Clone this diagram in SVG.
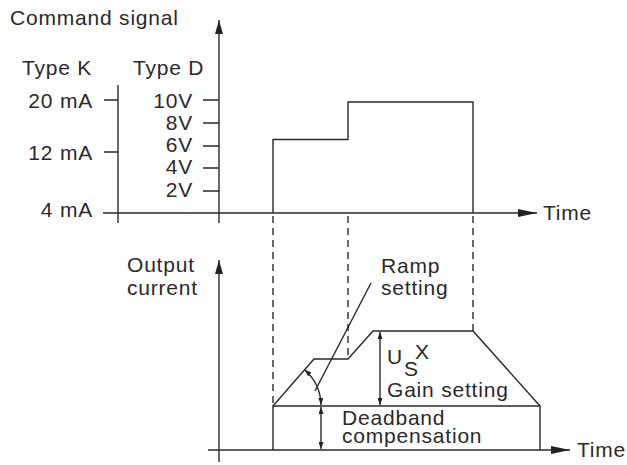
<svg xmlns="http://www.w3.org/2000/svg" width="627" height="465" viewBox="0 0 627 465">
<style>
text{font-family:"Liberation Sans",Arial,sans-serif;font-size:21px;fill:#2a2a2a;letter-spacing:0.8px}
.ln{stroke:#2a2a2a;stroke-width:1.4;fill:none}
.ds{stroke:#2a2a2a;stroke-width:1.4;fill:none;stroke-dasharray:7 5}
.e{text-anchor:end}
</style>
<defs>
<marker id="big" viewBox="0 0 14 8" refX="14" refY="4" markerWidth="14" markerHeight="8" markerUnits="userSpaceOnUse" orient="auto"><path d="M0,0 L14,4 L0,8 Z" fill="#222"/></marker>
<marker id="tm" viewBox="0 0 19 8" refX="19" refY="4" markerWidth="19" markerHeight="8" markerUnits="userSpaceOnUse" orient="auto"><path d="M0,0 L19,4 L0,8 Z" fill="#222"/></marker>
<marker id="sm" viewBox="0 0 7 5" refX="7" refY="2.5" markerWidth="7" markerHeight="5" markerUnits="userSpaceOnUse" orient="auto-start-reverse"><path d="M0,0 L7,2.5 L0,5 Z" fill="#222"/></marker>
</defs>
<g id="top-chart">
<text x="10" y="25">Command signal</text>
<text x="22" y="75">Type K</text>
<text x="133" y="75">Type D</text>
<text class="e" x="93" y="108">20 mA</text>
<text class="e" x="93" y="160">12 mA</text>
<text class="e" x="93" y="217">4 mA</text>
<text class="e" x="193" y="108">10V</text>
<text class="e" x="193" y="130">8V</text>
<text class="e" x="193" y="152">6V</text>
<text class="e" x="193" y="174">4V</text>
<text class="e" x="193" y="197">2V</text>
<text x="543" y="220">Time</text>
<line class="ln" x1="118" y1="85" x2="118" y2="223"/>
<line class="ln" x1="219" y1="223" x2="219" y2="20" marker-end="url(#big)"/>
<line class="ln" x1="103" y1="213" x2="537" y2="213" marker-end="url(#tm)"/>
<path class="ln" d="M104,100H118M104,152H118M203,100H219M203,123H219M203,146H219M203,168H219M203,191H219"/>
<path class="ln" d="M273,213V139.5H348V102H473V213"/>
</g>
<g id="bottom-chart">
<text x="127" y="272">Output</text>
<text x="127" y="295">current</text>
<text x="381" y="273">Ramp</text>
<text x="381" y="295">setting</text>
<text x="387" y="364">U</text>
<text x="404" y="376">S</text>
<text x="415" y="359">X</text>
<text x="387" y="397">Gain setting</text>
<text x="342" y="425">Deadband</text>
<text x="342" y="443">compensation</text>
<text x="577" y="457">Time</text>
<line class="ln" x1="219" y1="462" x2="219" y2="260" marker-end="url(#big)"/>
<line class="ln" x1="208" y1="450" x2="570" y2="450" marker-end="url(#tm)"/>
<path class="ln" d="M273,450V406H540V450"/>
<path class="ln" d="M273,406L314,359H348L373,331H473L540,406"/>
</g>
<g id="connectors">
<line class="ds" x1="273" y1="216" x2="273" y2="406"/>
<line class="ds" x1="348" y1="216" x2="348" y2="359"/>
<line class="ds" x1="473" y1="216" x2="473" y2="331"/>
<line class="ln" x1="371" y1="283" x2="315" y2="391"/>
<line class="ln" x1="380" y1="332" x2="380" y2="405" marker-start="url(#sm)" marker-end="url(#sm)"/>
<line class="ln" x1="321" y1="407" x2="321" y2="449" marker-start="url(#sm)" marker-end="url(#sm)"/>
<path class="ln" d="M304.5,369.8A48,48 0 0 1 321,405" marker-start="url(#sm)" marker-end="url(#sm)"/>
</g>
</svg>
